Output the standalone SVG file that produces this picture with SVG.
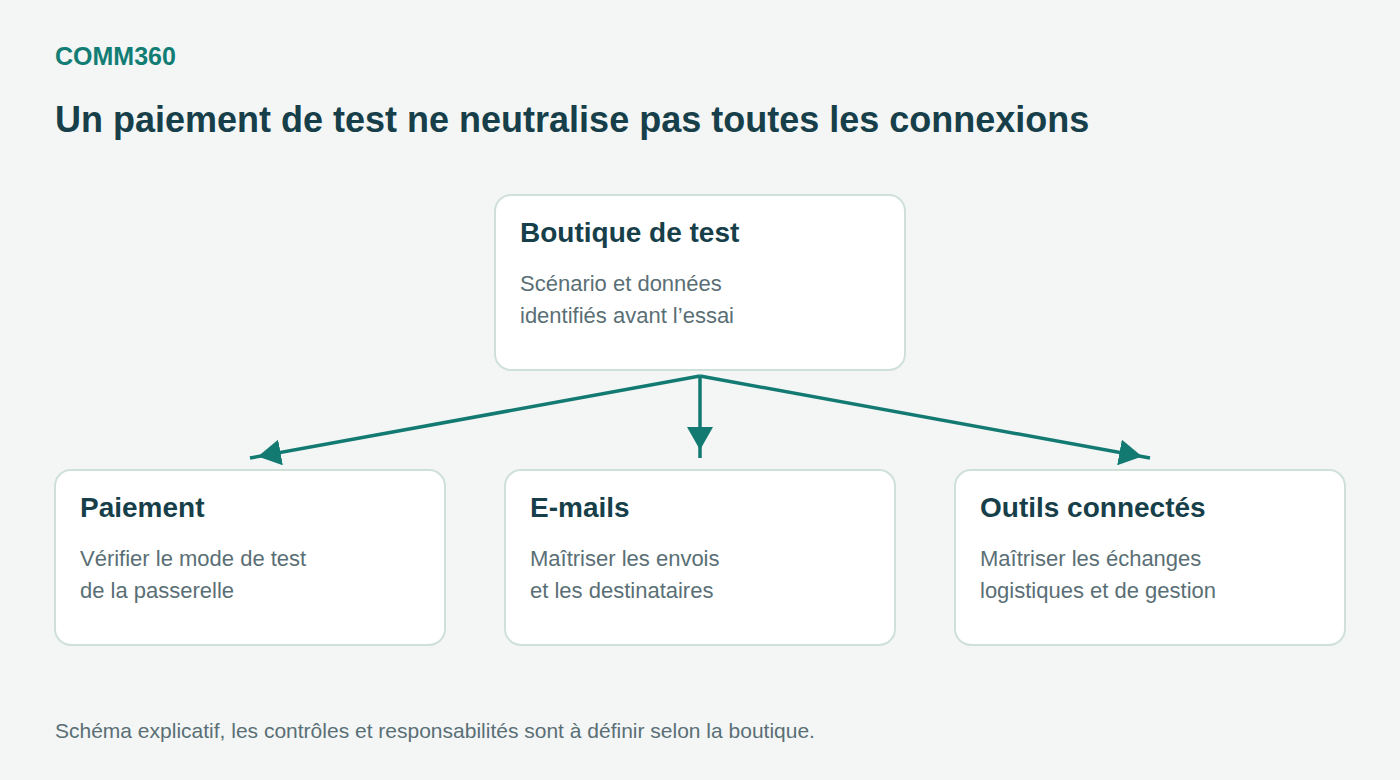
<svg xmlns="http://www.w3.org/2000/svg" width="1400" height="780" viewBox="0 0 1400 780">
<style>
.bg{fill:#f3f6f5}
.box{fill:#ffffff;stroke:#cfe0da;stroke-width:2}
.brand{font-family:"Liberation Sans",Arial,sans-serif;font-weight:bold;font-size:25px;fill:#127d74}
.title{font-family:"Liberation Sans",Arial,sans-serif;font-weight:bold;font-size:36px;fill:#173f4a}
.nt{font-family:"Liberation Sans",Arial,sans-serif;font-weight:bold;font-size:28px;fill:#173f4a}
.ns{font-family:"Liberation Sans",Arial,sans-serif;font-size:22px;fill:#5a6f75}
.foot{font-family:"Liberation Sans",Arial,sans-serif;font-size:21px;fill:#5a6f75}
.conn{stroke:#137a72;stroke-width:3.5;fill:none}
</style>
<defs>
<marker id="arr" markerUnits="userSpaceOnUse" markerWidth="32" markerHeight="26" refX="31" refY="13" orient="auto" viewBox="0 0 32 26">
<path d="M0,0 L23,13 L0,26 z" fill="#137a72"/>
</marker>
</defs>
<rect class="bg" width="1400" height="780"/>
<text class="brand" x="55" y="65">COMM360</text>
<text class="title" x="55" y="132">Un paiement de test ne neutralise pas toutes les connexions</text>
<g id="connectors">
<line class="conn" x1="700" y1="376" x2="250" y2="458" marker-end="url(#arr)"/>
<line class="conn" x1="700" y1="376" x2="700" y2="458" marker-end="url(#arr)"/>
<line class="conn" x1="700" y1="376" x2="1150" y2="458" marker-end="url(#arr)"/>
</g>
<g id="node-boutique">
<rect class="box" x="495" y="195" width="410" height="175" rx="16"/>
<text class="nt" x="520" y="242">Boutique de test</text>
<text class="ns" x="520" y="291">Scénario et données</text>
<text class="ns" x="520" y="323">identifiés avant l’essai</text>
</g>
<g id="node-paiement">
<rect class="box" x="55" y="470" width="390" height="175" rx="16"/>
<text class="nt" x="80" y="517">Paiement</text>
<text class="ns" x="80" y="566">Vérifier le mode de test</text>
<text class="ns" x="80" y="598">de la passerelle</text>
</g>
<g id="node-emails">
<rect class="box" x="505" y="470" width="390" height="175" rx="16"/>
<text class="nt" x="530" y="517">E-mails</text>
<text class="ns" x="530" y="566">Maîtriser les envois</text>
<text class="ns" x="530" y="598">et les destinataires</text>
</g>
<g id="node-outils">
<rect class="box" x="955" y="470" width="390" height="175" rx="16"/>
<text class="nt" x="980" y="517">Outils connectés</text>
<text class="ns" x="980" y="566">Maîtriser les échanges</text>
<text class="ns" x="980" y="598">logistiques et de gestion</text>
</g>
<text class="foot" x="55" y="738">Schéma explicatif, les contrôles et responsabilités sont à définir selon la boutique.</text>
</svg>
